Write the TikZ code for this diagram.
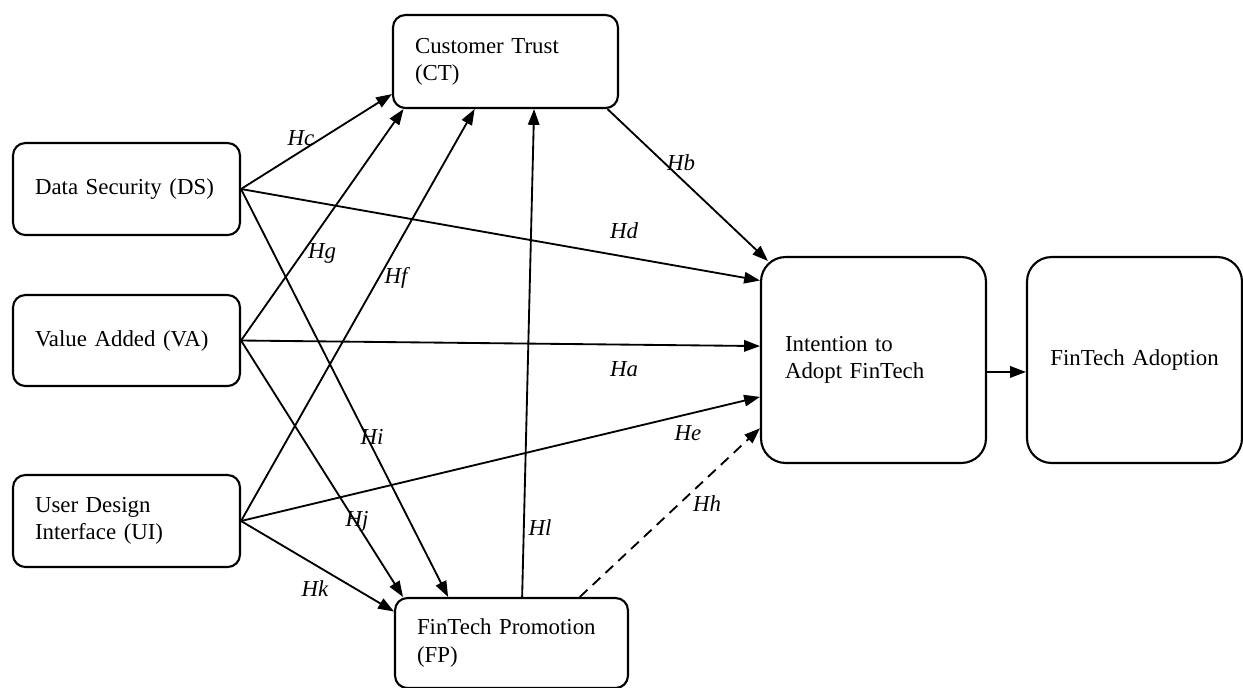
\documentclass[tikz,border=0pt]{standalone}
\usepackage{fontspec}
\setmainfont{Liberation Serif}
\usetikzlibrary{arrows.meta,calc}

\tikzset{
  construct/.style={draw,line width=1.2pt,rounded corners=7pt,inner xsep=0.44cm,
    align=left,font=\fontsize{13}{15.5}\selectfont},
  outcome/.style={construct,rounded corners=14pt,minimum height=4.12cm},
  hyp/.style={-{Triangle[length=9pt,width=6.5pt]},line width=1.05pt},
  hlabel/.style={font=\fontsize{13}{15}\selectfont\itshape,inner sep=1pt}
}

\begin{document}
\begin{tikzpicture}[x=0.02cm,y=-0.02cm]
\useasboundingbox (0,0) rectangle (1243,687);

% constructs
\node[construct,text width=3.66cm,minimum height=1.84cm](DS) at (126.5,189) {Data Security (DS)};
\node[construct,text width=3.66cm,minimum height=1.82cm](VA) at (126.5,340.5) {Value Added (VA)};
\node[construct,text width=3.66cm,minimum height=1.84cm](UI) at (126.5,521) {User Design\\Interface (UI)};

\node[construct,text width=3.62cm,minimum height=1.86cm](CT) at (505.5,61.5) {Customer Trust\\(CT)};
\node[construct,text width=3.78cm,minimum height=1.80cm](FP) at (511.5,643) {FinTech Promotion\\(FP)};

\node[outcome,text width=3.54cm,inner xsep=0.48cm](ITA) at (873.5,360) {Intention to\\Adopt FinTech};
\node[outcome,text width=3.42cm,align=center](FA) at (1134.5,360) {FinTech Adoption};

% hypotheses
\draw[hyp] (DS.east) to (CT.196);
\draw[hyp] (VA.east) to (CT.205);
\draw[hyp] (UI.east) to (CT.237);
\draw[hyp] (FP.77) to (CT.301);

\draw[hyp] (CT.335) to ($(ITA.north west)+(8,5)$);
\draw[hyp] (DS.east) to (ITA.145);
\draw[hyp] (VA.east) to (ITA.173);
\draw[hyp] (UI.east) to (ITA.198);
\draw[hyp,dash pattern=on 6pt off 4pt] (FP.34) to (ITA.211);

\draw[hyp] (DS.east) to (FP.144);
\draw[hyp] (VA.east) to (FP.157);
\draw[hyp] (UI.east) to (FP.165);

\draw[hyp] ([yshift=-6.8pt]ITA.east) to ([yshift=-6.8pt]FA.west);

% labels
\node[hlabel](lHc) at (301,138) {Hc};
\node[hlabel](lHg) at (322,253) {Hg};
\node[hlabel](lHf) at (396,278) {Hf};
\node[hlabel](lHb) at (681,163) {Hb};
\node[hlabel](lHd) at (624,231) {Hd};
\node[hlabel](lHa) at (624,369) {Ha};
\node[hlabel](lHe) at (688,433) {He};
\node[hlabel](lHh) at (707,504) {Hh};
\node[hlabel](lHl) at (540,528) {Hl};
\node[hlabel](lHi) at (372,437) {Hi};
\node[hlabel](lHj) at (357,521) {Hj};
\node[hlabel](lHk) at (315,589) {Hk};

\end{tikzpicture}
\end{document}
